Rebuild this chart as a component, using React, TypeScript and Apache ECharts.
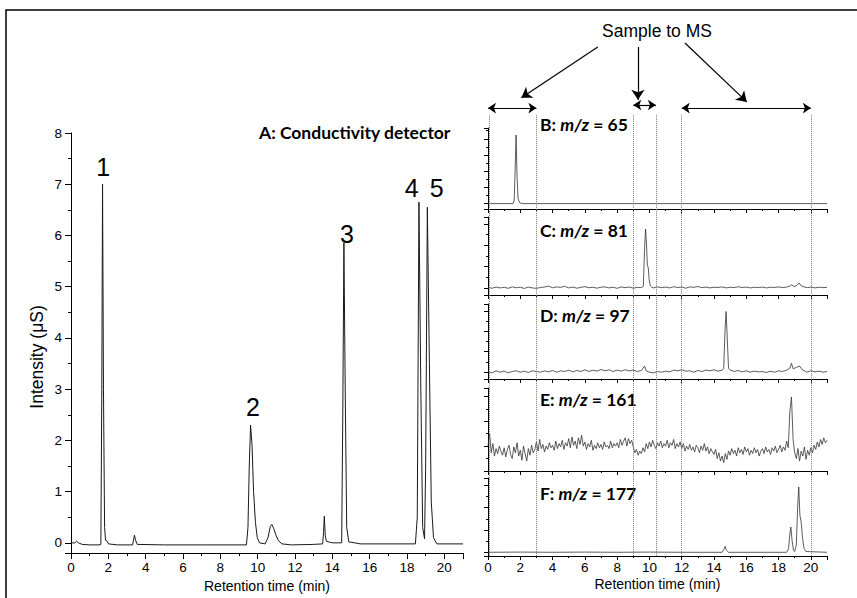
import React, { useEffect, useRef } from "react";
import * as echarts from "echarts";

// ---------- DATA ----------
// A: conductivity detector trace (time min, intensity µS)
const conductivity: [number, number][] = [
  [0, 0.0], [0.2, 0.0], [0.3, 0.03], [0.4, 0.0], [0.6, -0.03], [1.0, -0.04], [1.5, -0.04], [1.6, -0.03],
  [1.65, 3.0], [1.69, 7.0], [1.74, 3.0], [1.8, 0.3], [1.85, 0.05], [1.95, 0.03], [2.0, -0.02], [2.5, -0.04],
  [3.3, -0.04], [3.36, 0.08], [3.4, 0.15], [3.46, 0.05], [3.55, -0.03], [5, -0.04], [7, -0.04], [9.4, -0.04],
  [9.48, 0.3], [9.55, 1.5], [9.62, 2.3], [9.7, 1.9], [9.78, 1.0], [9.88, 0.4], [9.98, 0.1], [10.1, 0.0],
  [10.4, -0.02], [10.55, 0.1], [10.68, 0.32], [10.76, 0.36], [10.86, 0.28], [10.98, 0.15], [11.1, 0.05],
  [11.3, -0.02], [11.8, -0.04], [13.0, -0.03], [13.48, -0.02], [13.53, 0.2], [13.57, 0.52], [13.62, 0.15],
  [13.68, 0.03], [14.0, 0.0], [14.5, 0.0], [14.56, 2.5], [14.62, 5.86], [14.69, 3.0], [14.77, 0.3],
  [14.88, 0.02], [15.5, -0.02], [18.45, -0.02], [18.55, 0.5], [18.64, 6.65], [18.74, 3.0], [18.84, 0.3],
  [18.94, 0.08], [19.0, 1.5], [19.09, 6.55], [19.2, 3.5], [19.3, 0.8], [19.42, 0.1], [19.6, -0.02], [21, -0.02]
];

// B: m/z = 65
const mz65: [number, number][] = [
  [0, 0], [1.55, 0], [1.62, 0.05], [1.68, 0.6], [1.74, 1.27], [1.8, 0.5], [1.86, 0.1], [1.95, 0.02], [2.1, 0], [21, 0]
];

// C: m/z = 81
const mz81: [number, number][] = [
  [0, 0.01], [0.25, -0.005], [0.5, 0.012], [0.75, 0.0], [1, 0.008], [1.25, -0.006], [1.5, 0.015], [1.75, 0.002],
  [2, 0.01], [2.25, -0.008], [2.5, 0.012], [2.75, 0.0], [3, -0.006], [3.25, 0.006], [3.5, 0.012], [3.75, 0.025],
  [4, 0.002], [4.25, 0.014], [4.5, 0.008], [4.75, 0.022], [5, 0.0], [5.25, 0.012], [5.5, -0.004], [5.75, 0.008],
  [6, 0.018], [6.25, 0.002], [6.5, 0.01], [6.75, -0.004], [7, 0.01], [7.25, 0.014], [7.5, 0.0], [7.75, 0.01],
  [8, -0.006], [8.25, 0.014], [8.5, 0.004], [8.75, 0.012], [9, -0.004], [9.25, 0.008], [9.5, 0.004], [9.62, 0.02],
  [9.7, 0.55], [9.76, 0.83], [9.82, 0.62], [9.87, 0.32], [9.93, 0.28], [9.98, 0.12], [10.05, 0.03], [10.15, 0.01],
  [10.25, 0.0], [10.5, 0.014], [10.75, 0.004], [11, 0.012], [11.25, 0.0], [11.5, 0.016], [11.75, 0.006],
  [12, 0.012], [12.25, -0.004], [12.5, 0.014], [12.75, 0.008], [13, 0.02], [13.25, 0.004], [13.5, 0.012],
  [13.75, 0.0], [14, 0.01], [14.25, 0.006], [14.5, 0.014], [14.75, 0.0], [15, 0.01], [15.25, 0.004],
  [15.5, 0.016], [15.75, 0.006], [16, 0.012], [16.25, 0.0], [16.5, 0.01], [16.75, 0.004], [17, 0.012],
  [17.25, 0.0], [17.5, 0.01], [17.75, 0.006], [18, 0.014], [18.25, 0.004], [18.5, 0.012], [18.7, 0.025],
  [18.82, 0.045], [18.95, 0.02], [19.1, 0.03], [19.27, 0.07], [19.4, 0.03], [19.6, 0.012], [19.8, 0.004],
  [20, 0.012], [20.25, 0.0], [20.5, 0.01], [20.75, 0.004], [21, 0.008]
];

// D: m/z = 97
const mz97: [number, number][] = [
  [0, 0.01], [0.25, -0.01], [0.5, 0.02], [0.75, 0], [1, 0.015], [1.25, -0.01], [1.5, 0.01], [1.75, 0.02],
  [2, 0], [2.25, 0.015], [2.5, -0.005], [2.75, 0.02], [3, 0.01], [3.25, 0.0], [3.5, 0.02], [3.75, 0.005],
  [4, 0.025], [4.25, 0.0], [4.5, 0.02], [4.75, 0.01], [5, 0.03], [5.25, 0.005], [5.5, 0.025], [5.75, 0.01],
  [6, 0.035], [6.25, 0.01], [6.5, 0.03], [6.75, 0.015], [7, 0.04], [7.25, 0.02], [7.5, 0.035], [7.75, 0.01],
  [8, 0.03], [8.25, 0.015], [8.5, 0.035], [8.75, 0.02], [9, 0.03], [9.25, 0.01], [9.5, 0.025], [9.7, 0.09],
  [9.8, 0.02], [10, 0.0], [10.25, -0.01], [10.5, 0.01], [10.75, 0.0], [11, 0.015], [11.25, 0.005], [11.5, 0.03],
  [11.75, 0.02], [12, 0.035], [12.25, 0.015], [12.5, 0.02], [12.75, 0.0], [13, 0.025], [13.25, 0.01],
  [13.5, 0.03], [13.75, 0.02], [14, 0.035], [14.25, 0.015], [14.5, 0.03], [14.6, 0.05], [14.68, 0.6],
  [14.75, 0.89], [14.82, 0.5], [14.9, 0.06], [15, 0.03], [15.25, 0.01], [15.5, 0.025], [15.75, 0.005],
  [16, 0.02], [16.25, 0.0], [16.5, 0.015], [16.75, 0.005], [17, 0.01], [17.25, -0.005], [17.5, 0.015],
  [17.75, 0.0], [18, 0.02], [18.25, 0.01], [18.5, 0.03], [18.7, 0.06], [18.8, 0.13], [18.9, 0.05], [19.1, 0.07],
  [19.3, 0.09], [19.45, 0.04], [19.6, 0.02], [19.75, 0.0], [20, 0.02], [20.25, 0.005], [20.5, 0.015],
  [20.75, 0.0], [21, 0.01]
];

// E: m/z = 161, sampled every 0.1 min from 0
const mz161Start = 0;
const mz161Step = 0.1;
const mz161Values: number[] = [
  0.30, 0.45, 0.22, 0.33, 0.18, 0.27, 0.21, 0.30, 0.24, 0.19,
  0.28, 0.17, 0.26, 0.31, 0.20, 0.15, 0.29, 0.22, 0.34, 0.18,
  0.25, 0.13, 0.30, 0.21, 0.12, 0.27, 0.19, 0.31, 0.22, 0.26,
  0.35, 0.24, 0.38, 0.27, 0.32, 0.23, 0.30, 0.26, 0.34, 0.28,
  0.31, 0.25, 0.36, 0.27, 0.33, 0.29, 0.37, 0.26, 0.34, 0.30,
  0.39, 0.28, 0.41, 0.31, 0.36, 0.27, 0.40, 0.32, 0.43, 0.30,
  0.35, 0.26, 0.33, 0.29, 0.37, 0.25, 0.31, 0.27, 0.34, 0.28,
  0.32, 0.26, 0.35, 0.29, 0.31, 0.27, 0.36, 0.28, 0.33, 0.30,
  0.34, 0.28, 0.38, 0.31, 0.36, 0.40, 0.30, 0.39, 0.33, 0.37,
  0.29, 0.22, 0.26, 0.19, 0.24, 0.21, 0.28, 0.23, 0.33, 0.27,
  0.35, 0.29, 0.37, 0.31, 0.27, 0.34, 0.30, 0.36, 0.28, 0.33,
  0.30, 0.37, 0.28, 0.34, 0.31, 0.38, 0.27, 0.33, 0.29, 0.35,
  0.27, 0.33, 0.24, 0.30, 0.26, 0.32, 0.25, 0.29, 0.23, 0.31,
  0.28, 0.22, 0.30, 0.25, 0.33, 0.24, 0.29, 0.21, 0.27, 0.23,
  0.20, 0.26, 0.15, 0.22, 0.12, 0.18, 0.10, 0.21, 0.14, 0.24,
  0.19, 0.27, 0.21, 0.25, 0.18, 0.28, 0.22, 0.26, 0.20, 0.29,
  0.23, 0.27, 0.19, 0.25, 0.21, 0.28, 0.22, 0.26, 0.18, 0.24,
  0.27, 0.21, 0.29, 0.23, 0.26, 0.20, 0.28, 0.24, 0.30, 0.22,
  0.26, 0.31, 0.23, 0.29, 0.25, 0.36, 0.28, 0.72, 0.89, 0.38,
  0.22, 0.15, 0.27, 0.12, 0.24, 0.18, 0.29, 0.14, 0.25, 0.19,
  0.28, 0.22, 0.31, 0.26, 0.35, 0.29, 0.38, 0.32, 0.40, 0.34,
  0.37
];

// F: m/z = 177
const mz177: [number, number][] = [
  [0, 0], [2, 0.003], [4, 0], [6, 0.003], [8, 0], [10, 0.003], [12, 0], [14.5, 0], [14.62, 0.04], [14.69, 0.08],
  [14.76, 0.03], [14.9, 0], [18.5, 0], [18.62, 0.05], [18.7, 0.25], [18.76, 0.34], [18.84, 0.15], [18.92, 0.03],
  [19.0, 0.01], [19.1, 0.1], [19.18, 0.6], [19.25, 0.88], [19.32, 0.5], [19.4, 0.41], [19.48, 0.2], [19.58, 0.05],
  [19.7, 0.01], [21, 0]
];

// peak numbers on trace A: label, [time, intensity] where the number sits
const peakLabels: { name: string; coord: [number, number] }[] = [
  { name: "1", coord: [1.73, 7.34] },
  { name: "2", coord: [9.75, 2.66] },
  { name: "3", coord: [14.78, 6.03] },
  { name: "4", coord: [18.25, 6.93] },
  { name: "5", coord: [19.59, 6.93] }
];

// fractions sent to the MS (min)
const msWindows: [number, number][] = [[0, 3], [9, 10.4], [12, 20]];
const windowEdges: number[] = [0.05, 3, 9, 10.4, 12, 20];

const panelLabels = [
  { letter: "B", mz: "65" },
  { letter: "C", mz: "81" },
  { letter: "D", mz: "97" },
  { letter: "E", mz: "161" },
  { letter: "F", mz: "177" }
];

// ---------- CHART ----------
const SANS = "'Liberation Sans', Arial, sans-serif";
const LABELFONT = "Lato, 'Open Sans', sans-serif";

export default function App() {
  const ref = useRef<HTMLDivElement>(null);

  useEffect(() => {
    if (!ref.current) return;
    const chart = echarts.init(ref.current, undefined, { renderer: "svg" });

    const black = { color: "#000", width: 1 };

    const rightGrids = [
      { top: 128, height: 81 },
      { top: 217, height: 78 },
      { top: 304, height: 75 },
      { top: 388, height: 83 },
      { top: 478, height: 78 }
    ];
    const rightY = [
      [-0.1, 1.4],
      [-0.1, 1.0],
      [-0.1, 1.0],
      [0, 1],
      [-0.05, 1.0]
    ];
    const mz161: [number, number][] = mz161Values.map((v, i) => [
      Number((mz161Start + i * mz161Step).toFixed(2)),
      v
    ]);
    const rightData = [mz65, mz81, mz97, mz161, mz177];

    const grids: any[] = [{ left: 71, top: 133, width: 392, height: 426.5 }];
    rightGrids.forEach((g) => grids.push({ left: 488, width: 339, top: g.top, height: g.height }));
    grids.push({ left: 488, width: 339, top: 40, height: 516 }); // overlay

    const xAxes: any[] = [
      {
        gridIndex: 0,
        type: "value",
        min: 0,
        max: 21,
        interval: 2,
        axisLine: { onZero: false, lineStyle: black },
        axisTick: { length: 6, lineStyle: black },
        minorTick: { show: true, splitNumber: 2, length: 3, lineStyle: black },
        splitLine: { show: false },
        axisLabel: { margin: 7, fontSize: 13.5, color: "#000", fontFamily: SANS, showMaxLabel: false },
        name: "Retention time (min)",
        nameLocation: "middle",
        nameGap: 24,
        nameTextStyle: { fontSize: 14, color: "#000", fontFamily: SANS }
      }
    ];
    const yAxes: any[] = [
      {
        gridIndex: 0,
        type: "value",
        min: -0.2,
        max: 8,
        splitNumber: 8,
        axisLine: { show: true, onZero: false, lineStyle: black },
        axisTick: { show: true, length: 6, lineStyle: black },
        minorTick: { show: true, splitNumber: 2, length: 3, lineStyle: black },
        splitLine: { show: false },
        axisLabel: { margin: 9, fontSize: 13.5, color: "#000", fontFamily: SANS, showMinLabel: false }
      }
    ];
    rightGrids.forEach((_, i) => {
      const last = i === rightGrids.length - 1;
      xAxes.push({
        gridIndex: i + 1,
        type: "value",
        min: 0,
        max: 21,
        interval: 2,
        axisLine: { onZero: false, lineStyle: black },
        axisTick: { length: 4, lineStyle: black },
        minorTick: { show: true, splitNumber: 2, length: 2, lineStyle: black },
        splitLine: { show: false },
        axisLabel: last
          ? { show: true, margin: 4, fontSize: 13.5, color: "#000", fontFamily: SANS, showMaxLabel: false }
          : { show: false },
        name: last ? "Retention time (min)" : "",
        nameLocation: "middle",
        nameGap: 21,
        nameTextStyle: { fontSize: 14, color: "#000", fontFamily: SANS }
      });
      yAxes.push({
        gridIndex: i + 1,
        type: "value",
        min: rightY[i][0],
        max: rightY[i][1],
        splitNumber: 4,
        axisLine: { show: true, onZero: false, lineStyle: black },
        axisTick: { show: true, length: 4, lineStyle: black },
        minorTick: { show: true, splitNumber: 2, length: 2, lineStyle: black },
        splitLine: { show: false },
        axisLabel: { show: false }
      });
    });
    xAxes.push({ gridIndex: 6, type: "value", min: 0, max: 21, show: false });
    yAxes.push({ gridIndex: 6, type: "value", min: 0, max: 1, inverse: true, show: false });

    const series: any[] = [
      {
        type: "line",
        xAxisIndex: 0,
        yAxisIndex: 0,
        data: conductivity,
        showSymbol: false,
        symbol: "none",
        lineStyle: { color: "#1a1a1a", width: 1 },
        markPoint: {
          silent: true,
          symbol: "circle",
          symbolSize: 1,
          itemStyle: { color: "rgba(0,0,0,0)" },
          label: {
            show: true,
            position: "inside",
            fontSize: 25,
            color: "#000",
            fontFamily: SANS,
            formatter: (p: any) => p.name
          },
          data: peakLabels.map((p) => ({ name: p.name, coord: p.coord }))
        }
      }
    ];
    rightData.forEach((d, i) => {
      series.push({
        type: "line",
        xAxisIndex: i + 1,
        yAxisIndex: i + 1,
        data: d,
        showSymbol: false,
        symbol: "none",
        lineStyle: { color: "#333", width: 0.8 }
      });
    });

    const topOfEdges = 0.145;
    series.push({
      type: "line",
      xAxisIndex: 6,
      yAxisIndex: 6,
      data: [],
      markLine: {
        silent: true,
        symbol: ["none", "none"],
        label: { show: false },
        lineStyle: { type: "dotted", color: "#777", width: 1 },
        data: windowEdges.map((x) => [{ coord: [x, topOfEdges] }, { coord: [x, 1] }])
      }
    });
    const arrowRows = [0.132, 0.126, 0.132];
    series.push({
      type: "line",
      xAxisIndex: 6,
      yAxisIndex: 6,
      data: [],
      markLine: {
        silent: true,
        symbol: ["arrow", "arrow"],
        symbolSize: 8,
        label: { show: false },
        lineStyle: { type: "solid", color: "#000", width: 1.2 },
        data: msWindows.map((w, i) => [{ coord: [w[0], arrowRows[i]] }, { coord: [w[1], arrowRows[i]] }])
      }
    });
    // pointers from "Sample to MS" to each fraction
    const pointers: [[number, number], [number, number]][] = [
      [[6.8, 0.0136], [2.07, 0.112]],
      [[9.29, 0.0136], [9.29, 0.116]],
      [[12.2, 0.0058], [16.03, 0.12]]
    ];
    series.push({
      type: "line",
      xAxisIndex: 6,
      yAxisIndex: 6,
      data: [],
      markLine: {
        silent: true,
        symbol: ["none", "arrow"],
        symbolSize: 10,
        label: { show: false },
        lineStyle: { type: "solid", color: "#000", width: 1.2 },
        data: pointers.map((p) => [{ coord: p[0] }, { coord: p[1] }])
      }
    });

    const labelY = [124, 230, 315, 399, 493];
    const graphic: any[] = [
      {
        type: "rect",
        silent: true,
        shape: { x: 6, y: 10, width: 900, height: 700 },
        style: { fill: "none", stroke: "#000", lineWidth: 1.5 }
      },
      {
        type: "text",
        x: 657,
        y: 31,
        style: { text: "Sample to MS", fontSize: 17.5, fontFamily: SANS, fill: "#000", align: "center", verticalAlign: "middle" }
      },
      {
        type: "text",
        x: 37,
        y: 357,
        rotation: Math.PI / 2,
        style: { text: "Intensity (μS)", fontSize: 17.5, fontFamily: SANS, fill: "#000", align: "center", verticalAlign: "middle" }
      },
      {
        type: "text",
        x: 259,
        y: 132,
        style: {
          text: "A: Conductivity detector",
          fontSize: 17.5,
          fontWeight: "bold",
          fontFamily: LABELFONT,
          fill: "#000",
          align: "left",
          verticalAlign: "middle"
        }
      }
    ];
    panelLabels.forEach((p, i) => {
      graphic.push({
        type: "text",
        x: 540,
        y: labelY[i],
        style: {
          text: `{b|${p.letter}: }{i|m/z}{b| = ${p.mz}}`,
          align: "left",
          verticalAlign: "middle",
          rich: {
            b: { fontSize: 17.5, fontWeight: "bold", fontFamily: LABELFONT, fill: "#000", color: "#000" },
            i: { fontSize: 17.5, fontWeight: "bold", fontStyle: "italic", fontFamily: LABELFONT, fill: "#000", color: "#000" }
          }
        }
      });
    });

    chart.setOption({
      animation: false,
      backgroundColor: "#fff",
      grid: grids,
      xAxis: xAxes,
      yAxis: yAxes,
      series,
      graphic
    });

    return () => chart.dispose();
  }, []);

  return <div ref={ref} style={{ position: "absolute", left: 0, top: 0, width: 857, height: 598 }} />;
}
